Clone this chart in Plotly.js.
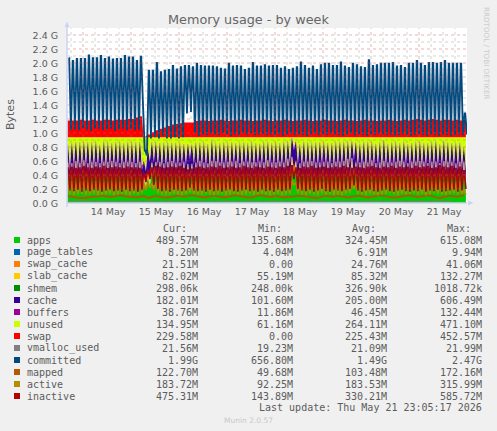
<!DOCTYPE html>
<html><head><meta charset="utf-8">
<script src="https://cdn.plot.ly/plotly-3.0.0.min.js"></script>
<style>html,body{margin:0;padding:0;background:#f0f0f0}#c{width:497px;height:431px}</style>
</head><body><div id="c"></div>
<script>
// Values in G, read per 2-hour cycle (about 4 px) from the picture.
const committedHigh=[2.07,2.03,2.06,2.06,2.06,2.11,2.07,2.07,2.10,2.06,2.08,2.05,2.06,2.06,2.10,2.08,2.08,2.03,2.09,.75,
1.89,1.89,2.00,1.87,1.89,1.90,1.96,1.91,1.94,1.96,1.96,1.94,1.99,
1.96,1.95,1.95,1.95,1.94,1.92,1.91,1.99,1.95,1.96,1.95,1.90,1.92,2.00,1.95,1.95,1.97,1.95,
1.96,1.96,1.92,1.94,1.90,1.92,1.94,2.01,1.96,1.92,1.95,1.90,1.97,1.99,1.99,1.96,1.96,
2.01,1.95,1.93,1.99,1.97,1.94,1.93,2.04,1.96,1.97,1.99,1.99,1.99,2.00,1.95,1.96,1.93,
1.99,1.99,2.03,1.99,1.96,2.00,2.00,1.99,2.00,2.03,1.99,1.99,1.99,1.99,1.28];
const committedLow=[1.04,1.05,1.04,1.06,1.05,1.03,1.06,1.06,1.04,1.05,1.06,1.03,1.05,1.06,1.04,1.05,1.04,1.05,1.42,.68,
.92,.94,.92,.96,.92,.92,.94,.92,.94,1.28,1.30,1.00,.96,
.98,.97,.99,.98,.97,1.00,.98,.96,.98,.97,.99,.98,1.00,.97,.98,.99,.97,.98,
.97,.98,.96,.98,.99,.97,.98,.97,.96,.98,.99,.97,.98,.97,.99,.98,.97,
.96,.98,.99,.97,.98,.97,.96,.98,.97,.99,.98,.97,.98,.96,.97,.98,.97,
.96,.97,.98,.97,.96,.98,.97,.96,.98,.97,.96,.97,.98,.97,.98];
const swapLevel=[.24,.24,.24,.25,.24,.24,.25,.24,.24,.25,.25,.24,.25,.25,.25,.26,.26,.28,.30,.01,
.04,.07,.10,.12,.14,.16,.18,.19,.20,.21,.21,.21,.23,
.24,.24,.23,.24,.24,.25,.24,.23,.24,.24,.25,.24,.24,.23,.24,.24,.25,.24,
.23,.24,.24,.25,.24,.23,.24,.24,.25,.24,.23,.24,.24,.25,.24,.24,.23,
.24,.25,.24,.24,.23,.24,.25,.24,.24,.23,.24,.24,.25,.24,.23,.24,.25,
.24,.25,.26,.25,.24,.25,.26,.25,.24,.25,.25,.24,.25,.24,.22];
const appsHigh=[.47,.46,.48,.47,.49,.46,.48,.47,.46,.48,.47,.49,.47,.46,.48,.47,.48,.46,.47,.30,
.34,.44,.47,.48,.46,.47,.49,.47,.46,.48,.44,.45,.47,
.48,.47,.46,.48,.49,.47,.46,.48,.47,.49,.46,.47,.48,.47,.46,.48,.47,.49,
.47,.46,.48,.47,.50,.52,.47,.46,.48,.47,.49,.47,.46,.48,.47,.46,.48,
.47,.49,.50,.51,.47,.46,.48,.47,.49,.46,.47,.48,.47,.46,.48,.49,.47,
.46,.48,.47,.49,.47,.46,.48,.47,.46,.49,.47,.48,.46,.47,.48];
const appsLow=[.13,.14,.13,.14,.15,.13,.14,.13,.13,.14,.14,.15,.14,.13,.14,.14,.13,.13,.15,.22,
.24,.24,.20,.15,.14,.13,.14,.15,.14,.16,.20,.16,.14,
.13,.14,.13,.14,.13,.15,.14,.13,.14,.15,.13,.14,.14,.13,.15,.14,.13,.14,
.13,.14,.15,.13,.16,.33,.18,.14,.13,.14,.15,.14,.17,.14,.13,.14,.15,
.14,.13,.16,.22,.15,.14,.13,.14,.15,.14,.13,.14,.14,.15,.13,.14,.15,
.14,.15,.13,.14,.15,.14,.13,.15,.14,.13,.14,.15,.14,.13,.15];
const slabCache=[.08,.08,.09,.08,.09,.08,.08,.09,.08,.08,.09,.08,.09,.08,.08,.09,.08,.08,.09,.06,
.10,.11,.09,.08,.08,.09,.08,.08,.09,.08,.09,.08,.08,
.09,.08,.08,.09,.08,.08,.09,.08,.09,.08,.08,.09,.08,.08,.09,.08,.08,.09,
.08,.09,.08,.08,.10,.11,.09,.08,.08,.09,.08,.08,.09,.08,.09,.08,.08,
.09,.08,.10,.10,.08,.09,.08,.08,.09,.08,.08,.09,.08,.09,.08,.08,.09,
.08,.08,.09,.08,.09,.08,.08,.09,.08,.08,.09,.08,.08,.09,.08];
const cacheHigh=[.23,.26,.25,.26,.24,.28,.25,.26,.24,.27,.25,.23,.26,.27,.24,.26,.25,.27,.26,.18,
.27,.26,.25,.24,.27,.25,.24,.26,.25,.23,.26,.25,.26,
.24,.26,.25,.27,.23,.25,.26,.24,.25,.23,.26,.25,.24,.26,.25,.23,.26,.24,
.25,.26,.24,.27,.22,.24,.26,.24,.26,.25,.23,.26,.26,.25,.24,.26,.25,
.26,.25,.22,.22,.26,.24,.26,.27,.23,.25,.26,.27,.24,.26,.25,.23,.26,
.25,.24,.26,.25,.24,.26,.25,.27,.24,.26,.25,.24,.26,.25,.18];
const cacheLow=[.22,.23,.21,.22,.23,.21,.22,.24,.22,.21,.23,.22,.21,.23,.22,.21,.23,.22,.20,.14,
.22,.20,.21,.23,.24,.25,.24,.23,.25,.26,.30,.27,.24,
.23,.22,.21,.23,.22,.21,.23,.22,.24,.22,.21,.23,.22,.21,.23,.24,.22,.23,
.22,.21,.23,.24,.26,.28,.24,.23,.22,.21,.23,.24,.22,.25,.23,.22,.21,
.23,.24,.25,.26,.23,.22,.21,.23,.22,.24,.21,.23,.22,.21,.23,.22,.24,
.22,.21,.23,.22,.21,.23,.24,.22,.23,.21,.22,.23,.21,.22,.20];
const buffersLow=[.08,.09,.08,.08,.07,.09,.08,.08,.09,.08,.07,.08,.09,.08,.08,.07,.09,.08,.06,.02,
.02,.03,.04,.05,.06,.06,.07,.07,.08,.06,.04,.05,.07,
.08,.09,.08,.07,.09,.08,.08,.07,.09,.08,.08,.09,.07,.08,.09,.08,.07,.08,
.09,.08,.07,.08,.05,.04,.07,.08,.09,.08,.07,.08,.09,.08,.08,.07,.09,
.08,.07,.05,.06,.08,.09,.08,.07,.08,.09,.08,.07,.08,.09,.08,.07,.08,
.09,.08,.07,.08,.09,.08,.07,.08,.09,.08,.07,.08,.09,.08,.04];
const inactiveHigh=[.50,.51,.49,.50,.52,.50,.49,.51,.50,.52,.49,.50,.51,.50,.49,.51,.50,.50,.49,.42,
.46,.50,.52,.51,.49,.50,.51,.50,.52,.49,.47,.48,.50,
.51,.49,.50,.51,.50,.52,.49,.50,.51,.49,.50,.52,.50,.49,.51,.50,.49,.51,
.50,.49,.51,.50,.52,.53,.50,.49,.51,.50,.52,.49,.50,.51,.49,.50,.51,
.50,.52,.50,.49,.51,.50,.49,.51,.52,.50,.49,.51,.50,.52,.49,.51,.50,
.51,.49,.52,.50,.51,.52,.49,.50,.53,.51,.50,.52,.49,.51,.46];
const inactiveLow=[.18,.17,.19,.16,.18,.17,.19,.18,.16,.18,.19,.17,.18,.16,.19,.17,.18,.16,.19,.30,
.34,.26,.20,.17,.18,.16,.19,.18,.17,.18,.22,.18,.17,
.18,.16,.19,.17,.18,.16,.18,.19,.17,.16,.18,.19,.17,.18,.16,.19,.17,.18,
.16,.19,.17,.18,.19,.34,.20,.18,.17,.19,.16,.18,.20,.17,.16,.19,.18,
.17,.19,.20,.25,.18,.16,.18,.19,.17,.16,.18,.19,.17,.16,.18,.19,.17,
.16,.18,.17,.19,.16,.18,.17,.19,.16,.17,.18,.19,.16,.18,.20];
const activeHigh=[.28,.30,.27,.29,.31,.28,.27,.30,.28,.29,.27,.30,.28,.29,.27,.30,.28,.27,.29,.26,
.28,.27,.29,.28,.30,.27,.29,.28,.30,.27,.28,.26,.29,
.28,.30,.27,.29,.28,.27,.30,.28,.29,.27,.28,.30,.27,.29,.28,.30,.27,.29,
.28,.27,.30,.29,.30,.31,.28,.27,.29,.28,.30,.27,.28,.29,.27,.30,.28,
.29,.27,.30,.31,.28,.29,.27,.30,.28,.27,.29,.28,.30,.27,.29,.28,.30,
.27,.29,.28,.30,.27,.28,.29,.27,.30,.28,.29,.27,.28,.30,.18];
const activeLow=[.12,.11,.12,.13,.11,.12,.13,.11,.12,.12,.13,.11,.12,.13,.12,.11,.13,.12,.14,.18,
.22,.18,.14,.12,.11,.12,.13,.12,.11,.13,.15,.13,.12,
.11,.13,.12,.11,.12,.13,.11,.12,.13,.12,.11,.12,.13,.11,.12,.13,.12,.11,
.12,.13,.11,.12,.13,.26,.14,.12,.11,.13,.12,.11,.14,.12,.13,.11,.12,
.11,.13,.14,.20,.13,.12,.11,.13,.12,.11,.12,.13,.14,.12,.11,.13,.12,
.13,.14,.12,.13,.11,.12,.14,.13,.12,.11,.13,.14,.12,.13,.12];
const mappedLevel=[.10,.09,.08,.07,.07,.08,.09,.09,.10,.10,.09,.09,.10,.11,.10,.09,.09,.08,.09,.10,
.07,.09,.10,.09,.08,.08,.09,.10,.10,.09,.10,.11,.10,
.09,.08,.09,.10,.10,.09,.08,.09,.10,.11,.10,.09,.08,.08,.10,.11,.10,.09,
.09,.10,.09,.08,.09,.09,.10,.10,.10,.09,.08,.07,.08,.10,.10,.09,.10,
.10,.09,.08,.09,.10,.10,.09,.08,.09,.10,.11,.10,.09,.08,.08,.09,.10,
.11,.10,.09,.09,.10,.11,.10,.08,.07,.09,.10,.10,.09,.10,.11];
// Slow-moving series, read once per day.
const pageTablesByDay=[.006,.006,.007,.007,.007,.007,.007,.007,.008];
const swapCacheByDay=[.024,.024,.022,.024,.025,.024,.025,.024,.021];
const shmemByDay=[.0003,.0003,.0004,.0003,.0003,.0003,.0003,.0003,.0003];
const buffersPeakByDay=[.03,.03,.03,.03,.03,.03,.03,.03,.03];
const vmallocByDay=[.0205,.0205,.0205,.0206,.0206,.0206,.0207,.0207,.0210];
const ramTop=.94;

const yTicks=[0,.2,.4,.6,.8,1,1.2,1.4,1.6,1.8,2,2.2,2.4];
const yTickLabels=['0.0 G','0.2 G','0.4 G','0.6 G','0.8 G','1.0 G','1.2 G','1.4 G','1.6 G','1.8 G','2.0 G','2.2 G','2.4 G'];
const dayNames=['14 May','15 May','16 May','17 May','18 May','19 May','20 May','21 May'];
const names=['apps','page_tables','swap_cache','slab_cache','shmem','cache','buffers','unused','swap','vmalloc_used','committed','mapped','active','inactive'];
const colors=['#00CC00','#0066B3','#FF8000','#FFCC00','#008F00','#330099','#990099','#CCFF00','#FF0000','#808080','#00487D','#B35A00','#B38F00','#B30000'];
const curCol=['489.57M','8.20M','21.51M','82.02M','298.06k','182.01M','38.76M','134.95M','229.58M','21.56M','1.99G','122.70M','183.72M','475.31M'];
const minCol=['135.68M','4.04M','0.00','55.19M','248.00k','101.60M','11.86M','61.16M','0.00','19.23M','656.80M','49.68M','92.25M','143.89M'];
const avgCol=['324.45M','6.91M','24.76M','85.32M','326.90k','205.00M','46.45M','264.11M','225.43M','21.09M','1.49G','103.48M','183.53M','330.21M'];
const maxCol=['615.08M','9.94M','41.06M','132.27M','1018.72k','606.49M','132.44M','471.10M','452.57M','21.99M','2.47G','172.16M','315.99M','585.72M'];

const t0=Date.UTC(2026,4,13,16), pxMs=1800000, N=committedHigh.length;
const T=p=>t0+(p-67)*pxMs;
const byDay=(a,i)=>a[Math.min(a.length-1,Math.floor(i/12))];
// Each 2-hour cycle: peak held briefly, then the valley.
const stackX=[],cX=[];
for(let i=0;i<N;i++){const p=67.5+4*i;stackX.push(T(p),T(p+.8),T(p+2.4));cX.push(T(p+1.2),T(p+1.7),T(p+3.45));}
const zig=(h,l)=>{const o=[];for(let i=0;i<N;i++)o.push(h[i],h[i],l[i]);return o;};
const same=a=>zig(a,a);
const dailyList=a=>{const o=[];for(let i=0;i<N;i++)o.push(byDay(a,i));return o;};
const daily=a=>same(dailyList(a));

const sApps=zig(appsHigh,appsLow), sPT=daily(pageTablesByDay), sSC=daily(swapCacheByDay), sSlab=same(slabCache),
 sShm=daily(shmemByDay), sCache=zig(cacheHigh,cacheLow);
const sBuf=zig(dailyList(buffersPeakByDay),buffersLow), sSwap=same(swapLevel);
const sUnused=sApps.map((v,i)=>Math.max(0,ramTop-v-sPT[i]-sSC[i]-sSlab[i]-sShm[i]-sCache[i]-sBuf[i]));
const stacks=[sApps,sPT,sSC,sSlab,sShm,sCache,sBuf,sUnused,sSwap];
const traces=stacks.map((y,k)=>({type:'scatter',mode:'lines',x:stackX,y,stackgroup:'mem',name:names[k],
  line:{width:0,color:colors[k],shape:'linear',simplify:false},fillcolor:colors[k],hoverinfo:'skip'}));
const dayX=vmallocByDay.map((_,i)=>T(67+i*48));
const ln=(k,x,y,w)=>({type:'scatter',mode:'lines',x,y,name:names[k],line:{color:colors[k],width:w,simplify:false},hoverinfo:'skip'});
traces.push(ln(9,dayX,vmallocByDay,1));
traces.push(ln(10,cX,zig(committedHigh,committedLow),1.85));
const mapX=[];for(let i=0;i<N;i++)mapX.push(T(68+4*i));
traces.push(ln(11,mapX,mappedLevel,2));
traces.push(ln(12,stackX,zig(activeHigh,activeLow),1.6));
traces.push(ln(13,stackX,zig(inactiveHigh,inactiveLow),1.7));

const px=p=>(p-67)/400, py=p=>(203-p)/175;
const shapes=[],ann=[];
const gridMinor='rgba(110,110,110,.3)',gridMajor='rgba(200,90,90,.45)';
for(let k=1;k<=24;k++){const v=k/10;shapes.push({type:'line',xref:'paper',yref:'y',x0:0,x1:1,y0:v,y1:v,layer:'above',line:{color:k%2?gridMinor:gridMajor,width:1,dash:'dot'}});}
for(let p=71;p<467;p+=12){const major=(p-83)%48===0;shapes.push({type:'line',xref:'x',yref:'paper',x0:T(p),x1:T(p),y0:0,y1:1,layer:'above',line:{color:major?gridMajor:gridMinor,width:1,dash:'dot'}});}
const axisC='#CDD3F2';
shapes.push({type:'line',xref:'paper',yref:'paper',x0:px(67),x1:px(467),y0:py(203),y1:py(203),layer:'above',line:{color:axisC,width:1.5}});
shapes.push({type:'line',xref:'paper',yref:'paper',x0:px(67),x1:px(67),y0:py(207),y1:py(27),layer:'above',line:{color:axisC,width:1.5}});
shapes.push({type:'path',xref:'paper',yref:'paper',layer:'above',line:{width:0},fillcolor:axisC,path:`M ${px(64.5)} ${py(27)} L ${px(69.5)} ${py(27)} L ${px(67)} ${py(21.5)} Z`});
shapes.push({type:'path',xref:'paper',yref:'paper',layer:'above',line:{width:0},fillcolor:axisC,path:`M ${px(468)} ${py(200.5)} L ${px(468)} ${py(205.5)} L ${px(473.5)} ${py(203)} Z`});
const mono='"DejaVu Sans Mono",monospace',txt='#5c5c5c';
const note=(text,x,y,anchor,size,color,family,extra)=>ann.push(Object.assign({text,x:px(x),y:py(y),xref:'paper',yref:'paper',xanchor:anchor,yanchor:'middle',showarrow:false,align:anchor,
  font:{family:family||mono,size,color},borderpad:0},extra||{}));
const rowY=i=>240+12*i;
const rights=[199,294,388,483];
const cols=[curCol,minCol,avgCol,maxCol];
note('Cur:',175,228,'center',10,txt);note('Min:',270,228,'center',10,txt);note('Avg:',364,228,'center',10,txt);note('Max:',458.5,228,'center',10,txt);
names.forEach((n,i)=>{
  shapes.push({type:'rect',xref:'paper',yref:'paper',x0:px(14),x1:px(20),y0:py(rowY(i)-3),y1:py(rowY(i)+3),fillcolor:colors[i],line:{width:0}});
  note(n,26,rowY(i),'left',10,txt);
  cols.forEach((c,j)=>note(c[i],rights[j],rowY(i),'right',10,txt));
});
note('Last update: Thu May 21 23:05:17 2026',483,407.7,'right',10,txt);
note('Munin 2.0.57',248,420,'center',7.5,'#c8c8c8','"DejaVu Sans",sans-serif');
note('RRDTOOL / TOBI OETIKER',487,53,'center',7.2,'#cccccc','"DejaVu Sans",sans-serif',{textangle:90});
note('Memory usage - by week',248.5,20,'center',12.8,'#666666','"DejaVu Sans",sans-serif');
note('Bytes',10,115,'center',11,'#5c5c5c','"DejaVu Sans",sans-serif',{textangle:-90});

const tickX=dayNames.map((_,i)=>T(108+48*i));
Plotly.newPlot('c',traces,{
  width:497,height:431,showlegend:false,paper_bgcolor:'#f0f0f0',plot_bgcolor:'#ffffff',
  margin:{l:67,r:30,t:28,b:228,pad:0},
  xaxis:{type:'date',range:[T(67),T(467)],tickmode:'array',tickvals:tickX,ticktext:dayNames,showgrid:false,zeroline:false,showline:false,ticks:'',ticklabelstandoff:1,
    tickfont:{family:'"DejaVu Sans",sans-serif',size:9.5,color:'#5c5c5c'},tickangle:0},
  yaxis:{range:[0,2.5],tickmode:'array',tickvals:yTicks,ticktext:yTickLabels,showgrid:false,zeroline:false,showline:false,ticks:'outside',ticklen:6,tickcolor:'rgba(0,0,0,0)',ticklabelshift:1,
    tickfont:{family:'"DejaVu Sans",sans-serif',size:9.5,color:'#5c5c5c'}},
  shapes,annotations:ann
},{displayModeBar:false,staticPlot:true});
</script></body></html>
